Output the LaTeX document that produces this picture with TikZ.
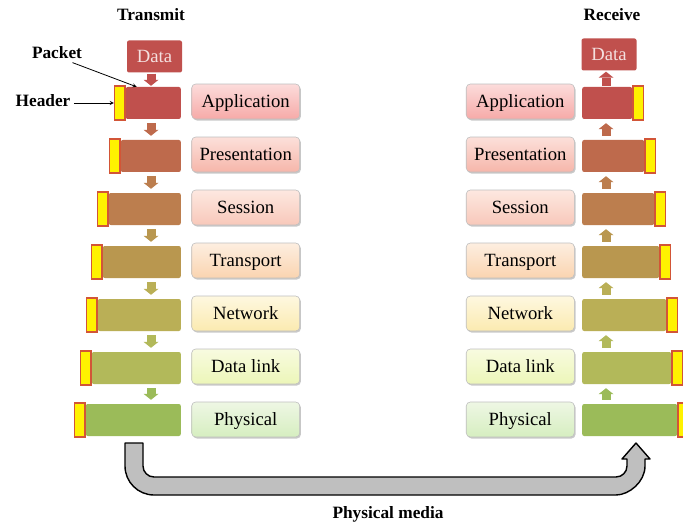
\documentclass[tikz,border=0pt]{standalone}
\usepackage{fontspec}
\setmainfont{Liberation Serif}
\usetikzlibrary{arrows.meta, shadows}

\definecolor{appcol}{RGB}{192,80,77}
\definecolor{prescol}{RGB}{190,106,76}
\definecolor{sesscol}{RGB}{188,126,78}
\definecolor{transcol}{RGB}{185,151,79}
\definecolor{netcol}{RGB}{186,175,86}
\definecolor{dlcol}{RGB}{178,185,90}
\definecolor{physcol}{RGB}{155,187,89}
\definecolor{hdrline}{RGB}{210,85,55}
\definecolor{datatext}{RGB}{244,224,223}
\definecolor{appltop}{RGB}{252,220,219}
\definecolor{applbot}{RGB}{246,170,168}
\definecolor{presltop}{RGB}{252,224,218}
\definecolor{preslbot}{RGB}{246,182,170}
\definecolor{sessltop}{RGB}{253,232,224}
\definecolor{sesslbot}{RGB}{248,200,186}
\definecolor{transltop}{RGB}{253,238,224}
\definecolor{translbot}{RGB}{250,212,176}
\definecolor{netltop}{RGB}{254,248,224}
\definecolor{netlbot}{RGB}{251,234,176}
\definecolor{dlltop}{RGB}{248,251,224}
\definecolor{dllbot}{RGB}{236,246,184}
\definecolor{physltop}{RGB}{238,247,228}
\definecolor{physlbot}{RGB}{214,238,192}

\tikzstyle{osilayer} = [rectangle, rounded corners=4pt, draw=black!25, line width=0.6pt, minimum width=108pt, minimum height=35pt, text height=14pt, text depth=2pt, font=\fontsize{18.67}{22}\selectfont, drop shadow={shadow xshift=1.2pt, shadow yshift=-1.5pt, opacity=0.35, fill=black!60}]
\tikzstyle{packet} = [rectangle, rounded corners=2pt, inner sep=0pt, minimum height=32pt]
\tikzstyle{header} = [rectangle, inner sep=0pt, minimum width=10.5pt, minimum height=34pt, fill=yellow, draw=hdrline, line width=1.3pt]
\tikzstyle{datablock} = [rectangle, rounded corners=2pt, fill=appcol, text=datatext, minimum width=55pt, minimum height=32pt, font=\fontsize{18.67}{22}\selectfont]
\tikzstyle{bigtitle} = [font=\bfseries\fontsize{17.3}{20}\selectfont]
\tikzstyle{flowarrow} = [line width=9pt, -{Triangle[width=15pt, length=6pt, line width=0pt]}, shorten <=4pt, shorten >=4pt]
\tikzstyle{pointer} = [line width=0.8pt, ->, >=stealth]
\tikzstyle{media} = [fill=black!25, draw=black, line width=1.4pt, line join=round]

\begin{document}
\begin{tikzpicture}[x=1pt, y=-1pt]

    \useasboundingbox [fill=white] (0,0) rectangle (683,524);

    \matrix [column sep=166pt, row sep=17.4pt] at (383,260.5) {
        \node (tlapp) [osilayer, top color=appltop, bottom color=applbot] {Application}; &
        \node (rlapp) [osilayer, top color=appltop, bottom color=applbot] {Application}; \\

        \node (tlpres) [osilayer, top color=presltop, bottom color=preslbot] {Presentation}; &
        \node (rlpres) [osilayer, top color=presltop, bottom color=preslbot] {Presentation}; \\

        \node (tlsess) [osilayer, top color=sessltop, bottom color=sesslbot] {Session}; &
        \node (rlsess) [osilayer, top color=sessltop, bottom color=sesslbot] {Session}; \\

        \node (tltrans) [osilayer, top color=transltop, bottom color=translbot] {Transport}; &
        \node (rltrans) [osilayer, top color=transltop, bottom color=translbot] {Transport}; \\

        \node (tlnet) [osilayer, top color=netltop, bottom color=netlbot] {Network}; &
        \node (rlnet) [osilayer, top color=netltop, bottom color=netlbot] {Network}; \\

        \node (tldl) [osilayer, top color=dlltop, bottom color=dllbot] {Data link}; &
        \node (rldl) [osilayer, top color=dlltop, bottom color=dllbot] {Data link}; \\

        \node (tlphys) [osilayer, top color=physltop, bottom color=physlbot] {Physical}; &
        \node (rlphys) [osilayer, top color=physltop, bottom color=physlbot] {Physical}; \\
    };

    \node (transmit) [bigtitle] at (151,15) {Transmit};
    \node (receive) [bigtitle] at (612,15) {Receive};

    \node (tdata) [datablock] at (154.5,56.5) {Data};
    \node (rdata) [datablock] at (609,54.5) {Data};

    \node (tapp) [packet, fill=appcol, minimum width=55pt, anchor=east] at (181,103) {};
    \node (tpres) [packet, fill=prescol, minimum width=60pt, anchor=east] at (181,156) {};
    \node (tsess) [packet, fill=sesscol, minimum width=72pt, anchor=east] at (181,209) {};
    \node (ttrans) [packet, fill=transcol, minimum width=78pt, anchor=east] at (181,262) {};
    \node (tnet) [packet, fill=netcol, minimum width=83pt, anchor=east] at (181,315) {};
    \node (tdl) [packet, fill=dlcol, minimum width=89pt, anchor=east] at (181,368) {};
    \node (tphys) [packet, fill=physcol, minimum width=95pt, anchor=east] at (181,420) {};

    \node (thapp) [header, anchor=east] at (tapp.west) {};
    \node (thpres) [header, anchor=east] at (tpres.west) {};
    \node (thsess) [header, anchor=east] at (tsess.west) {};
    \node (thtrans) [header, anchor=east] at (ttrans.west) {};
    \node (thnet) [header, anchor=east] at (tnet.west) {};
    \node (thdl) [header, anchor=east] at (tdl.west) {};
    \node (thphys) [header, anchor=east] at (tphys.west) {};

    \node (rapp) [packet, fill=appcol, minimum width=50pt, anchor=west] at (582,103) {};
    \node (rpres) [packet, fill=prescol, minimum width=62pt, anchor=west] at (582,156) {};
    \node (rsess) [packet, fill=sesscol, minimum width=72pt, anchor=west] at (582,209) {};
    \node (rtrans) [packet, fill=transcol, minimum width=77pt, anchor=west] at (582,262) {};
    \node (rnet) [packet, fill=netcol, minimum width=84pt, anchor=west] at (582,315) {};
    \node (rdl) [packet, fill=dlcol, minimum width=89pt, anchor=west] at (582,368) {};
    \node (rphys) [packet, fill=physcol, minimum width=95pt, anchor=west] at (582,420) {};

    \node (rhapp) [header, anchor=west] at (rapp.east) {};
    \node (rhpres) [header, anchor=west] at (rpres.east) {};
    \node (rhsess) [header, anchor=west] at (rsess.east) {};
    \node (rhtrans) [header, anchor=west] at (rtrans.east) {};
    \node (rhnet) [header, anchor=west] at (rnet.east) {};
    \node (rhdl) [header, anchor=west] at (rdl.east) {};
    \node (rhphys) [header, anchor=west] at (rphys.east) {};

    \coordinate (tcol) at (151,0);
    \coordinate (rcol) at (606,0);

    \draw [flowarrow, appcol, shorten <=1pt, shorten >=1pt] (tdata.south -| tcol) -- (tapp.north -| tcol);
    \draw [flowarrow, prescol] (tapp.south -| tcol) -- (tpres.north -| tcol);
    \draw [flowarrow, sesscol] (tpres.south -| tcol) -- (tsess.north -| tcol);
    \draw [flowarrow, transcol] (tsess.south -| tcol) -- (ttrans.north -| tcol);
    \draw [flowarrow, netcol] (ttrans.south -| tcol) -- (tnet.north -| tcol);
    \draw [flowarrow, dlcol] (tnet.south -| tcol) -- (tdl.north -| tcol);
    \draw [flowarrow, physcol] (tdl.south -| tcol) -- (tphys.north -| tcol);

    \draw [flowarrow, physcol] (rphys.north -| rcol) -- (rdl.south -| rcol);
    \draw [flowarrow, dlcol] (rdl.north -| rcol) -- (rnet.south -| rcol);
    \draw [flowarrow, netcol] (rnet.north -| rcol) -- (rtrans.south -| rcol);
    \draw [flowarrow, transcol] (rtrans.north -| rcol) -- (rsess.south -| rcol);
    \draw [flowarrow, sesscol] (rsess.north -| rcol) -- (rpres.south -| rcol);
    \draw [flowarrow, prescol] (rpres.north -| rcol) -- (rapp.south -| rcol);
    \draw [flowarrow, appcol, shorten <=1pt, shorten >=1pt] (rapp.north -| rcol) -- (rdata.south -| rcol);

    \node (packetlbl) [bigtitle] at (57,53) {Packet};
    \node (headerlbl) [bigtitle] at (43,101) {Header};

    \draw [pointer] ([xshift=-13pt]packetlbl.south east) -- ([xshift=11pt]tapp.north west);
    \draw [pointer] ([yshift=-2pt]headerlbl.east) -- (thapp.west);

    \draw [media] (125,443) -- (143,443) -- (143,466)
        .. controls (143,472.1) and (147.9,477) .. (154,477) -- (616,477)
        .. controls (622.1,477) and (627,472.1) .. (627,466) -- (627,459)
        -- (622,459) -- (636,443) -- (650,459) -- (645,459) -- (645,466)
        .. controls (645,482) and (629,495) .. (616,495) -- (154,495)
        .. controls (138,495) and (125,482) .. (125,466) -- cycle;

    \node (medialbl) [bigtitle] at (388,514) {Physical media};

\end{tikzpicture}
\end{document}
